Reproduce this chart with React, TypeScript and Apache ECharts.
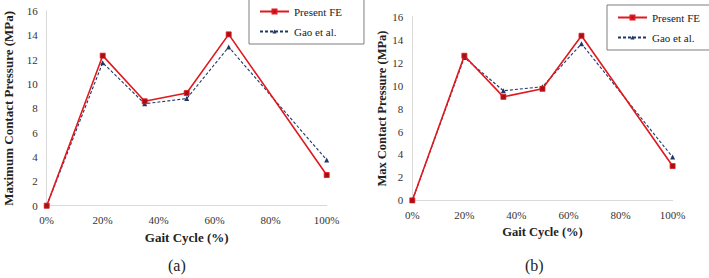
import React, { useEffect, useRef } from "react";
import * as echarts from "echarts";

const gaitPct = [0, 20, 35, 50, 65, 100];
const xTicks = [0, 20, 40, 60, 80, 100];
const aPresentFE = [0, 12.33, 8.58, 9.26, 14.08, 2.52];
const aGao = [0, 11.75, 8.38, 8.8, 13.04, 3.76];
const bPresentFE = [0, 12.6, 9.02, 9.72, 14.34, 2.99];
const bGao = [0, 12.45, 9.55, 9.9, 13.64, 3.77];
const seriesNames = ["Present FE", "Gao et al."];
const yTitles = ["Maximum Contact Pressure (MPa)", "Max Contact Pressure (MPa)"];
const xTitle = "Gait Cycle (%)";
const panelLabels = ["(a)", "(b)"];

const pairs = (vals: number[]) => gaitPct.map((x, i) => [x, vals[i]]);

const FONT = "Liberation Serif";
const RED = "#E0191E";
const RED_FILL = "#A80F14";
const BLUE = "#1F3864";

export default function App() {
  const ref = useRef<HTMLDivElement>(null);
  useEffect(() => {
    if (!ref.current) return;
    const chart = echarts.init(ref.current, undefined, { renderer: "svg" });
    const axisLabel = { fontFamily: FONT, fontSize: 11, color: "#333" };
    const axisLine = { show: true, lineStyle: { color: "#d9d9d9", width: 1 } };
    const xAxis = (gridIndex: number, gap: number, fs: number) => ({
      type: "value",
      gridIndex,
      min: xTicks[0],
      max: xTicks[xTicks.length - 1],
      interval: xTicks[1] - xTicks[0],
      axisLine,
      axisTick: { show: false },
      splitLine: { show: false },
      axisLabel: { ...axisLabel, margin: 9, formatter: "{value}%" },
      name: xTitle,
      nameLocation: "middle",
      nameGap: gap,
      nameTextStyle: { fontFamily: FONT, fontSize: fs, fontWeight: "bold", color: "#222" },
    });
    const yAxis = (gridIndex: number, name: string, gap: number, fs: number) => ({
      type: "value",
      gridIndex,
      min: 0,
      max: 16,
      interval: 2,
      axisLine,
      axisTick: { show: false },
      splitLine: { show: false },
      axisLabel: { ...axisLabel, margin: 9 },
      name,
      nameLocation: "middle",
      nameGap: gap,
      nameTextStyle: { fontFamily: FONT, fontSize: fs, fontWeight: "bold", color: "#222" },
    });
    const mk = (gi: number, vals: number[], idx: number) =>
      idx === 0
        ? {
            name: seriesNames[0],
            type: "line",
            xAxisIndex: gi,
            yAxisIndex: gi,
            data: pairs(vals),
            symbol: "rect",
            symbolSize: 5,
            lineStyle: { color: RED, width: 1.6 },
            itemStyle: { color: RED_FILL, borderColor: RED, borderWidth: 0.8 },
            z: 3,
          }
        : {
            name: seriesNames[1],
            type: "line",
            xAxisIndex: gi,
            yAxisIndex: gi,
            data: pairs(vals),
            symbol: "triangle",
            symbolSize: 5,
            lineStyle: { color: BLUE, width: 1.1, type: [3, 2] },
            itemStyle: { color: BLUE },
            z: 2,
          };
    const legend = (left: number, top: number) => ({
      left,
      top,
      orient: "vertical",
      data: seriesNames,
      itemWidth: 29,
      itemHeight: 5,
      itemGap: 9,
      borderColor: "#7f7f7f",
      borderWidth: 1,
      borderRadius: 0,
      padding: [7, 22, 7, 10],
      textStyle: { fontFamily: FONT, fontSize: 11, color: "#222" },
      selectedMode: false,
    });
    chart.setOption({
      animation: false,
      backgroundColor: "#fff",
      textStyle: { fontFamily: FONT },
      grid: [
        { left: 46.7, top: 11, width: 280, height: 194.7 },
        { left: 412.3, top: 16.7, width: 260.3, height: 183.7 },
      ],
      xAxis: [xAxis(0, 22, 13), xAxis(1, 23, 12.5)],
      yAxis: [yAxis(0, yTitles[0], 32, 13), yAxis(1, yTitles[1], 23, 12.5)],
      legend: [legend(249, -1), legend(607, 5)],
      series: [mk(0, aPresentFE, 0), mk(0, aGao, 1), mk(1, bPresentFE, 0), mk(1, bGao, 1)],
      graphic: [
        {
          type: "text",
          left: 178 - 10,
          top: 257,
          style: { text: panelLabels[0], font: `16px ${FONT}`, fill: "#222" },
        },
        {
          type: "text",
          left: 535 - 10,
          top: 257,
          style: { text: panelLabels[1], font: `16px ${FONT}`, fill: "#222" },
        },
      ],
    });
    return () => chart.dispose();
  }, []);
  return (
    <div
      ref={ref}
      style={{ position: "fixed", left: 0, top: 0, width: 709, height: 278, background: "#fff" }}
    />
  );
}
